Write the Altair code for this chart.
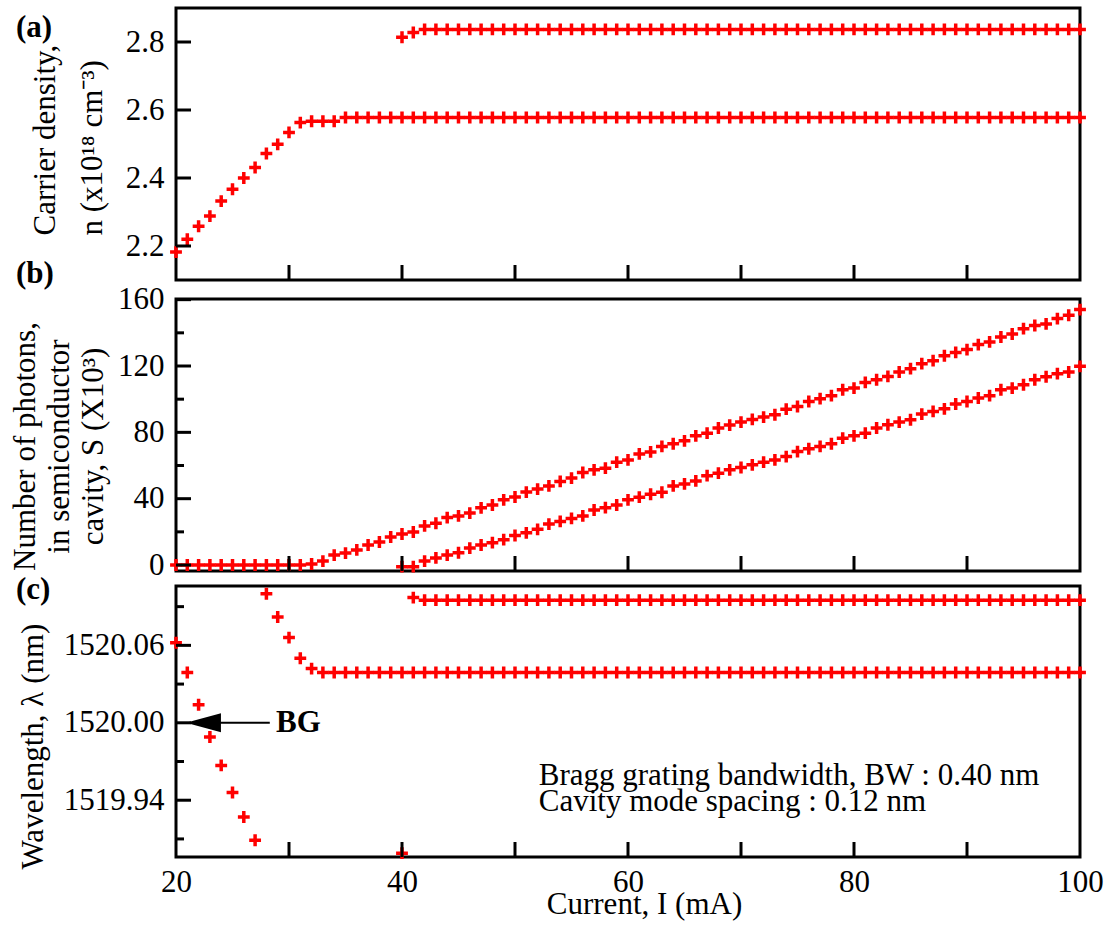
import altair as alt
import pandas as pd

# ---------------- data ----------------
current = [20, 21, 22, 23, 24, 25, 26, 27, 28, 29,
           30, 31, 32, 33, 34, 35, 36, 37, 38, 39,
           40, 41, 42, 43, 44, 45, 46, 47, 48, 49,
           50, 51, 52, 53, 54, 55, 56, 57, 58, 59,
           60, 61, 62, 63, 64, 65, 66, 67, 68, 69,
           70, 71, 72, 73, 74, 75, 76, 77, 78, 79,
           80, 81, 82, 83, 84, 85, 86, 87, 88, 89,
           90, 91, 92, 93, 94, 95, 96, 97, 98, 99, 100]
current2 = current[20:]  # second mode appears from 40 mA

# (a) carrier density n (x10^18 cm^-3)
n_mode1 = [2.182, 2.220, 2.258, 2.288, 2.332, 2.367, 2.400, 2.431, 2.472, 2.499,
           2.534, 2.563, 2.567, 2.567, 2.567, 2.578, 2.578, 2.578, 2.578, 2.578,
           2.578, 2.578, 2.578, 2.578, 2.578, 2.578, 2.578, 2.578, 2.578, 2.578,
           2.578, 2.578, 2.578, 2.578, 2.578, 2.578, 2.578, 2.578, 2.578, 2.578,
           2.578, 2.578, 2.578, 2.578, 2.578, 2.578, 2.578, 2.578, 2.578, 2.578,
           2.578, 2.578, 2.578, 2.578, 2.578, 2.578, 2.578, 2.578, 2.578, 2.578,
           2.578, 2.578, 2.578, 2.578, 2.578, 2.578, 2.578, 2.578, 2.578, 2.578,
           2.578, 2.578, 2.578, 2.578, 2.578, 2.578, 2.578, 2.578, 2.578, 2.578, 2.578]
n_mode2 = [2.814, 2.828, 2.837, 2.837, 2.837, 2.837, 2.837, 2.837, 2.837, 2.837,
           2.837, 2.837, 2.837, 2.837, 2.837, 2.837, 2.837, 2.837, 2.837, 2.837,
           2.837, 2.837, 2.837, 2.837, 2.837, 2.837, 2.837, 2.837, 2.837, 2.837,
           2.837, 2.837, 2.837, 2.837, 2.837, 2.837, 2.837, 2.837, 2.837, 2.837,
           2.837, 2.837, 2.837, 2.837, 2.837, 2.837, 2.837, 2.837, 2.837, 2.837,
           2.837, 2.837, 2.837, 2.837, 2.837, 2.837, 2.837, 2.837, 2.837, 2.837, 2.837]

# (b) photon number S (x10^3)
s_mode1 = [0, 0, 0, 0, 0, 0, 0, 0, 0, 0,
           0, 0, 0.6, 2.4, 6.0, 7.2, 9.1, 12.1, 13.9, 16.9,
           18.7, 19.9, 23.6, 25.2, 28.6, 29.6, 31.3, 34.5, 36.2, 39.3,
           41.0, 44.0, 45.8, 47.7, 50.4, 52.4, 55.8, 57.4, 58.4, 62.0,
           63.4, 67.0, 68.2, 71.5, 73.1, 74.9, 77.9, 79.5, 82.6, 84.4,
           86.2, 87.8, 89.2, 90.6, 94.0, 95.6, 98.6, 100.3, 102.1, 105.7,
           106.7, 110.1, 111.7, 113.7, 116.4, 118.4, 121.4, 123.2, 126.2, 128.2,
           129.9, 132.9, 134.5, 137.5, 139.3, 142.5, 144.4, 145.4, 148.6, 150.6, 154.0]
s_mode2 = [-1.0, -1.0, 2.4, 4.3, 6.0, 7.4, 10.2, 12.1, 13.5, 15.3,
           17.8, 19.4, 21.5, 24.7, 26.3, 28.1, 29.6, 33.2, 34.6, 36.2,
           39.3, 40.9, 42.7, 43.9, 47.7, 48.9, 50.7, 53.9, 55.4, 57.4,
           58.8, 60.4, 62.0, 63.4, 65.4, 68.4, 70.1, 71.5, 73.1, 76.5,
           77.9, 79.5, 82.6, 84.6, 86.2, 87.6, 91.0, 92.6, 94.2, 97.1,
           98.6, 100.7, 102.1, 105.7, 106.7, 108.7, 111.7, 113.5, 115.4, 116.4, 119.8]

# (c) wavelength (nm)
lam_mode1 = [1520.062, 1520.039, 1520.014, 1519.989, 1519.967, 1519.946, 1519.927, 1519.909, 1520.100, 1520.082,
             1520.066, 1520.050, 1520.042, 1520.039, 1520.039, 1520.039, 1520.039, 1520.039, 1520.039, 1520.039,
             1520.039, 1520.039, 1520.039, 1520.039, 1520.039, 1520.039, 1520.039, 1520.039, 1520.039, 1520.039,
             1520.039, 1520.039, 1520.039, 1520.039, 1520.039, 1520.039, 1520.039, 1520.039, 1520.039, 1520.039,
             1520.039, 1520.039, 1520.039, 1520.039, 1520.039, 1520.039, 1520.039, 1520.039, 1520.039, 1520.039,
             1520.039, 1520.039, 1520.039, 1520.039, 1520.039, 1520.039, 1520.039, 1520.039, 1520.039, 1520.039,
             1520.039, 1520.039, 1520.039, 1520.039, 1520.039, 1520.039, 1520.039, 1520.039, 1520.039, 1520.039,
             1520.039, 1520.039, 1520.039, 1520.039, 1520.039, 1520.039, 1520.039, 1520.039, 1520.039, 1520.039, 1520.039]
lam_mode2 = [1519.899, 1520.097, 1520.095, 1520.095, 1520.095, 1520.095, 1520.095, 1520.095, 1520.095, 1520.095,
             1520.095, 1520.095, 1520.095, 1520.095, 1520.095, 1520.095, 1520.095, 1520.095, 1520.095, 1520.095,
             1520.095, 1520.095, 1520.095, 1520.095, 1520.095, 1520.095, 1520.095, 1520.095, 1520.095, 1520.095,
             1520.095, 1520.095, 1520.095, 1520.095, 1520.095, 1520.095, 1520.095, 1520.095, 1520.095, 1520.095,
             1520.095, 1520.095, 1520.095, 1520.095, 1520.095, 1520.095, 1520.095, 1520.095, 1520.095, 1520.095,
             1520.095, 1520.095, 1520.095, 1520.095, 1520.095, 1520.095, 1520.095, 1520.095, 1520.095, 1520.095, 1520.095]

# ticks and labels
x_ticks = [30, 40, 50, 60, 70, 80, 90]
x_labels = [20, 40, 60, 80, 100]
a_major = [2.2, 2.4, 2.6, 2.8]
b_major = [0, 40, 80, 120, 160]
b_minor = [20, 60, 100, 140]
c_major = [1519.94, 1520.00, 1520.06]
c_minor = [1519.91, 1519.97, 1520.03, 1520.09]

title_a = ["Carrier density,", "n (x10\u00b9\u2078 cm\u207b\u00b3)"]
title_b = ["Number of photons,", "in semiconductor", "cavity, S (X10\u00b3)"]
title_c = "Wavelength, \u03bb (nm)"
title_x = "Current, I (mA)"
note_lines = ["Bragg grating bandwidth, BW : 0.40 nm", "Cavity mode spacing : 0.12 nm"]
panel_tags = ["(a)", "(b)", "(c)"]

# ---------------- styling ----------------
FONT = "Liberation Serif"
FS = 31
W = 904
HA, HB, HC = 272, 272, 271
RED = "#ff0000"
CROSS = "M-1,0L1,0M0,-1L0,1"
ARROW = "M-1,0L1,-0.54L1,0.54Z"

xscale = alt.Scale(domain=[20, 100], nice=False, zero=False)
scale_a = alt.Scale(domain=[2.1, 2.9], nice=False, zero=False)
scale_b = alt.Scale(domain=[-3.6, 160.4], nice=False, zero=False)
scale_c = alt.Scale(domain=[1519.896, 1520.106], nice=False, zero=False)


def make_df(x1, y1, x2, y2):
    return pd.DataFrame({"cur": list(x1) + list(x2), "val": list(y1) + list(y2)})


def yaxis(values, fmt, title, tx, ty, lh, align):
    return alt.Axis(values=values, format=fmt, ticks=False, domain=False, grid=False,
                    labelFont=FONT, labelFontSize=FS, labelColor="black", labelPadding=12,
                    labelFlush=False, labelOverlap=False,
                    title=title, titleFont=FONT, titleFontSize=FS, titleFontWeight="normal",
                    titleColor="black", titleAngle=270, titleX=tx, titleY=ty,
                    titleAlign=align, titleBaseline="alphabetic", titleLineHeight=lh)


def points(df, yscale, yax, xax=None):
    return alt.Chart(df).mark_point(shape=CROSS, filled=False, strokeWidth=3.5, size=140,
                                    color=RED, opacity=1).encode(
        x=alt.X("cur:Q", scale=xscale, axis=xax),
        y=alt.Y("val:Q", scale=yscale, axis=yax))


def yticks(vals, yscale, length, yax):
    return alt.Chart(pd.DataFrame({"val": vals})).mark_rule(color="black", strokeWidth=3).encode(
        y=alt.Y("val:Q", scale=yscale, axis=yax), x=alt.value(0), x2=alt.value(length))


def xticks(h, xax=None):
    return alt.Chart(pd.DataFrame({"cur": x_ticks})).mark_rule(color="black", strokeWidth=3).encode(
        x=alt.X("cur:Q", scale=xscale, axis=xax), y=alt.value(h), y2=alt.value(h - 15))


def tag(txt, dy):
    return alt.Chart(pd.DataFrame({"t": [txt]})).mark_text(
        font=FONT, fontSize=FS, fontWeight="bold", align="left", baseline="middle", color="black"
    ).encode(text="t:N", x=alt.value(-160), y=alt.value(dy))


# ---------------- panel (a) ----------------
yax_a = yaxis(a_major, ".1f", title_a, -122, 227, 47, "left")
df_a = make_df(current, n_mode1, current2, n_mode2)
pa = alt.layer(
    points(df_a, scale_a, yax_a),
    yticks(a_major, scale_a, 15, yax_a),
    xticks(HA),
    tag(panel_tags[0], 20),
).properties(width=W, height=HA)

# ---------------- panel (b) ----------------
yax_b = yaxis(b_major, "d", title_b, -142, 147, 34, "center")
df_b = make_df(current, s_mode1, current2, s_mode2)
pb = alt.layer(
    points(df_b, scale_b, yax_b),
    yticks(b_major, scale_b, 15, yax_b),
    yticks(b_minor, scale_b, 8, yax_b),
    xticks(HB),
    tag(panel_tags[1], -25),
).properties(width=W, height=HB)

# ---------------- panel (c) ----------------
yax_c = yaxis(c_major, ".2f", title_c, -134, 160, 34, "center")
xaxis_c = alt.Axis(values=x_labels, format="d", ticks=False, domain=False, grid=False,
                   labelFont=FONT, labelFontSize=FS, labelColor="black", labelPadding=10,
                   labelFlush=False, labelOverlap=False,
                   title=title_x, titleFont=FONT, titleFontSize=FS, titleFontWeight="normal",
                   titleColor="black", titleX=468, titleY=32, titleBaseline="top", titleAlign="center")
df_c = make_df(current, lam_mode1, current2, lam_mode2)

one = pd.DataFrame({"k": [0]})
note = alt.Chart(one).mark_text(text=note_lines, font=FONT, fontSize=FS, align="left",
                                baseline="alphabetic", lineHeight=26, color="black").encode(
    x=alt.X(datum=52.1, scale=xscale, axis=xaxis_c), y=alt.Y(datum=1519.952, scale=scale_c, axis=yax_c))
shaft = alt.Chart(one).mark_rule(color="black", strokeWidth=2).encode(
    x=alt.X(datum=23.9, scale=xscale, axis=xaxis_c), x2=alt.X2(datum=28.3),
    y=alt.Y(datum=1520.0, scale=scale_c, axis=yax_c))
head = alt.Chart(one).mark_point(shape=ARROW, filled=True, color="black", size=1225, opacity=1).encode(
    x=alt.X(datum=22.43, scale=xscale, axis=xaxis_c), y=alt.Y(datum=1520.0, scale=scale_c, axis=yax_c))
bg = alt.Chart(one).mark_text(text="BG", font=FONT, fontSize=FS, fontWeight="bold", align="left",
                              baseline="middle", color="black").encode(
    x=alt.X(datum=28.85, scale=xscale, axis=xaxis_c), y=alt.Y(datum=1520.0, scale=scale_c, axis=yax_c))

pc = alt.layer(
    points(df_c, scale_c, yax_c, xaxis_c),
    yticks(c_major, scale_c, 15, yax_c),
    yticks(c_minor, scale_c, 8, yax_c),
    xticks(HC, xaxis_c),
    shaft, head, bg, note,
    tag(panel_tags[2], 4),
).properties(width=W, height=HC)

chart = alt.vconcat(
    pa,
    alt.vconcat(pb, pc, spacing=15, bounds="flush"),
    spacing=19, bounds="flush",
).properties(
    padding={"left": 7, "top": 6, "right": 0, "bottom": 0},
    background="white",
).configure_view(stroke="black", strokeWidth=3)

chart.save("out.html", embed_options={"renderer": "svg", "actions": False})
